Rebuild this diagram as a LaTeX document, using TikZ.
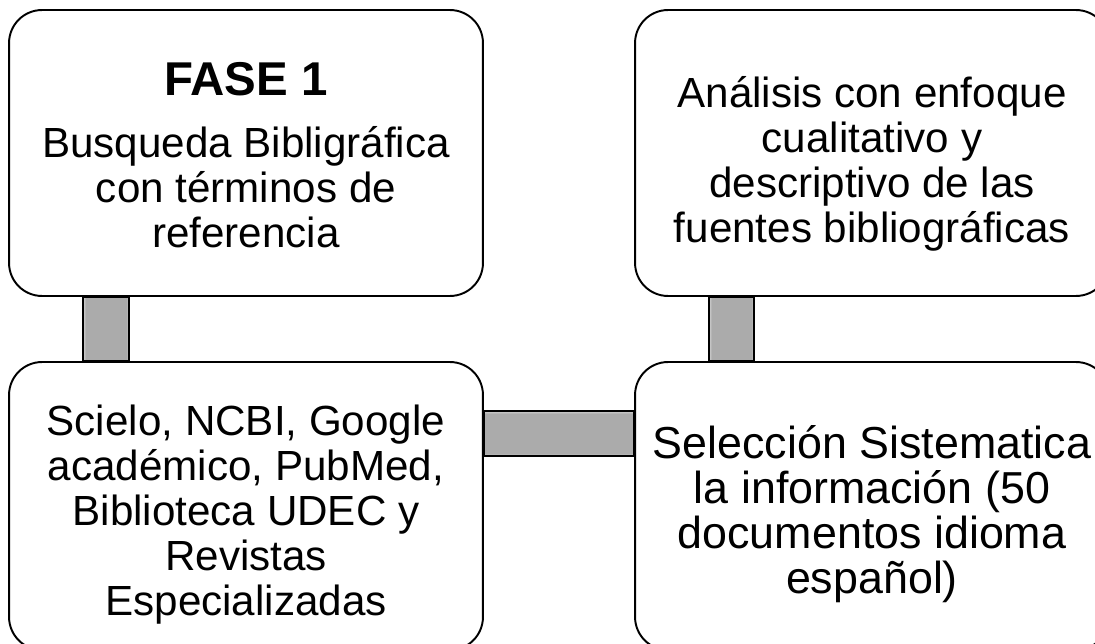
\documentclass[tikz,border=0pt]{standalone}
\usepackage{fontspec}
\setmainfont{Liberation Sans}
\usetikzlibrary{positioning,calc}
\definecolor{linkgray}{HTML}{ABABAB}
\definecolor{linkedge}{HTML}{D2D2D2}
% flat grey with a thin light rim at both long edges
\pgfdeclarehorizontalshading{barshade}{100bp}{color(0bp)=(linkedge); color(25bp)=(linkedge);
  color(28bp)=(linkgray); color(72bp)=(linkgray); color(75bp)=(linkedge); color(100bp)=(linkedge)}
\tikzset{
  stage/.style={rectangle,draw,line width=1.1pt,rounded corners=0.66cm,fill=white,
                minimum width=9.48cm,minimum height=5.72cm,inner sep=0},
  stagetext/.style={align=center,inner sep=0,font=\fontsize{24}{25.6}\selectfont},
  linkv/.style={draw,line width=1.3pt,shading=barshade},
  linkh/.style={draw,line width=1.3pt,shading=barshade,shading angle=90},
}
\begin{document}
\begin{tikzpicture}[x=0.02cm,y=0.02cm]
  \clip (0,0) rectangle (1095,643);
  \fill[white] (0,0) rectangle (1095,643);
  % the four stages, boxes on the right run past the page edge
  \node[stage] (fase) at (246,490) {};
  \node[stage] (analisis) at (872,490) {};
  \node[stage,minimum height=5.76cm] (fuentes) at (246,137) {};
  \node[stage,minimum height=5.76cm] (seleccion) at (872,137) {};
  \node[stagetext] (fasetext) at ([yshift=-0.04cm]fase.center) {{\bfseries\fontsize{27}{30}\selectfont FASE 1}\\[10pt]
    Busqueda Bibligráfica\\con términos de\\referencia};
  \node[stagetext] (analisistext) at ([yshift=-0.21cm]analisis.center) {Análisis con enfoque\\cualitativo y\\descriptivo de las\\fuentes bibliográficas};
  \node[stagetext] (fuentestext) at ([yshift=-0.18cm]fuentes.center) {Scielo, NCBI, Google\\académico, PubMed,\\Biblioteca UDEC y\\Revistas\\Especializadas};
  \node[stagetext,font=\fontsize{25.5}{25.6}\selectfont] (selecciontext) at ([yshift=-0.16cm]seleccion.center) {Selección Sistematica\\la información (50\\documentos idioma\\español)};
  % bars between the stages
  \draw[linkv] ([xshift=1.5cm]fase.south west) rectangle ([xshift=2.42cm]fuentes.north west);
  \draw[linkh] ([yshift=-1cm]fuentes.north east) rectangle ([yshift=-1.9cm]seleccion.north west);
  \draw[linkv] ([xshift=1.5cm]seleccion.north west) rectangle ([xshift=2.4cm]analisis.south west);
\end{tikzpicture}
\end{document}
